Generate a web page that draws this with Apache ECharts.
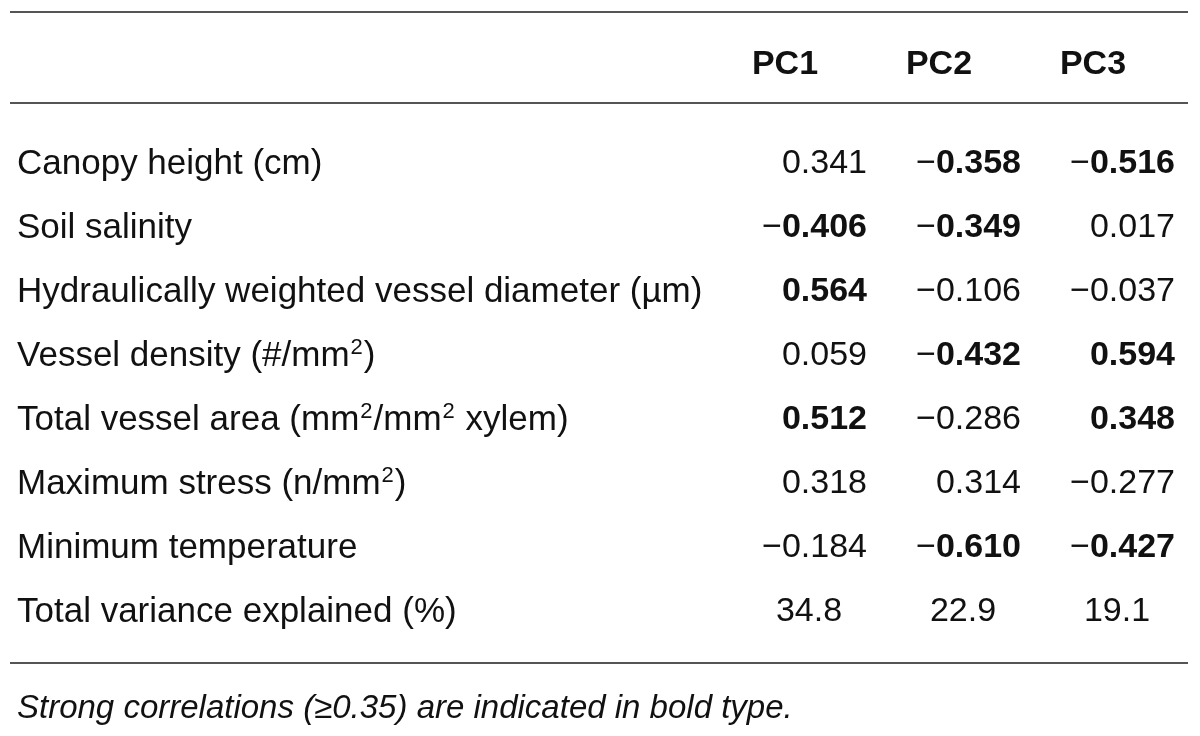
<!DOCTYPE html>
<html>
<head>
<meta charset="utf-8">
<script src="https://cdn.jsdelivr.net/npm/echarts@6/dist/echarts.min.js"></script>
<style>
  html, body { margin: 0; background: #fff; }
  #chart { width: 1200px; height: 736px; }
</style>
</head>
<body>
<div id="chart"></div>
<script>
// table contents
const components = ['PC1', 'PC2', 'PC3'];
const variables = [
    'Canopy height (cm)',
    'Soil salinity',
    'Hydraulically weighted vessel diameter (µm)',
    'Vessel density (#/mm²)',
    'Total vessel area (mm²/mm² xylem)',
    'Maximum stress (n/mm²)',
    'Minimum temperature',
    'Total variance explained (%)'
];
const pc1 = [0.341, -0.406, 0.564, 0.059, 0.512, 0.318, -0.184];
const pc2 = [-0.358, -0.349, -0.106, -0.432, -0.286, 0.314, -0.610];
const pc3 = [-0.516, 0.017, -0.037, 0.594, 0.348, -0.277, -0.427];
// bold = strong correlation, as printed
const bold1 = [false, true, true, false, true, false, false];
const bold2 = [true, true, false, true, false, false, true];
const bold3 = [true, false, false, true, true, false, true];
const varianceExplained = [34.8, 22.9, 19.1];
const footnote = 'Strong correlations (≥0.35) are indicated in bold type.';

const FONT = '"Liberation Sans", Arial, sans-serif';
const INK = '#111';
const RULE = '#555';

const loadings = [];
[pc1, pc2, pc3].forEach((col, c) => {
    const flags = [bold1, bold2, bold3][c];
    col.forEach((v, r) => loadings.push({ value: [c, r, v], bold: flags[r] }));
});
const variance = varianceExplained.map((v, c) => ({ value: [c, variables.length - 1, v] }));

function formatLoading(p) {
    const v = p.value[2];
    const digits = Math.abs(v).toFixed(3);
    const sign = v < 0 ? '{m|−}' : '';
    return sign + (p.data.bold ? '{b|' + digits + '}' : '{r|' + digits + '}');
}

const chart = echarts.init(document.getElementById('chart'));

chart.setOption({
    backgroundColor: '#fff',
    animation: false,
    textStyle: { fontFamily: FONT, color: INK },
    title: {
        text: footnote,
        left: 17,
        top: 692,
        padding: 0,
        textStyle: { fontFamily: FONT, fontSize: 33, fontStyle: 'italic', fontWeight: 'normal', color: INK }
    },
    grid: { left: 708, right: 30, top: 132, height: 512, outerBoundsMode: 'none', containLabel: false },
    xAxis: {
        type: 'category',
        data: components,
        position: 'top',
        axisLine: { show: false },
        axisTick: { show: false },
        splitLine: { show: false },
        axisLabel: {
            interval: 0,
            margin: 50,
            fontFamily: FONT,
            fontSize: 34,
            lineHeight: 34,
            fontWeight: 'bold',
            color: INK
        }
    },
    yAxis: {
        type: 'category',
        data: variables,
        inverse: true,
        axisLine: { show: false },
        axisTick: { show: false },
        splitLine: { show: false },
        axisLabel: {
            interval: 0,
            align: 'left',
            margin: 691,
            fontFamily: FONT,
            fontSize: 35,
            lineHeight: 40,
            color: INK,
            formatter: v => v.replace(/²/g, '{sup|2}'),
            rich: {
                sup: { fontFamily: FONT, fontSize: 22, lineHeight: 40, verticalAlign: 'top', color: INK, padding: [1, 1, 0, 1] }
            }
        }
    },
    series: [
        {
            name: 'loadings',
            type: 'scatter',
            symbolSize: 0,
            itemStyle: { opacity: 1 },
            data: loadings,
            label: {
                show: true,
                position: 'inside',
                align: 'right',
                offset: [82, 0],
                color: INK,
                formatter: formatLoading,
                rich: {
                    m: { fontFamily: FONT, fontSize: 34, color: INK },
                    r: { fontFamily: FONT, fontSize: 34, color: INK },
                    b: { fontFamily: FONT, fontSize: 34, fontWeight: 'bold', color: INK }
                }
            }
        },
        {
            name: 'variance',
            type: 'scatter',
            symbolSize: 0,
            itemStyle: { opacity: 1 },
            data: variance,
            label: {
                show: true,
                position: 'inside',
                align: 'center',
                offset: [24, 0],
                fontFamily: FONT,
                fontSize: 34,
                color: INK,
                formatter: p => p.value[2].toFixed(1)
            }
        }
    ],
    graphic: [
        { type: 'line', shape: { x1: 10, y1: 12, x2: 1188, y2: 12 }, style: { stroke: RULE, lineWidth: 2 } },
        { type: 'line', shape: { x1: 10, y1: 103, x2: 1188, y2: 103 }, style: { stroke: RULE, lineWidth: 2 } },
        { type: 'line', shape: { x1: 10, y1: 663, x2: 1188, y2: 663 }, style: { stroke: RULE, lineWidth: 2 } }
    ]
});

window.addEventListener('resize', () => chart.resize());
</script>
</body>
</html>
